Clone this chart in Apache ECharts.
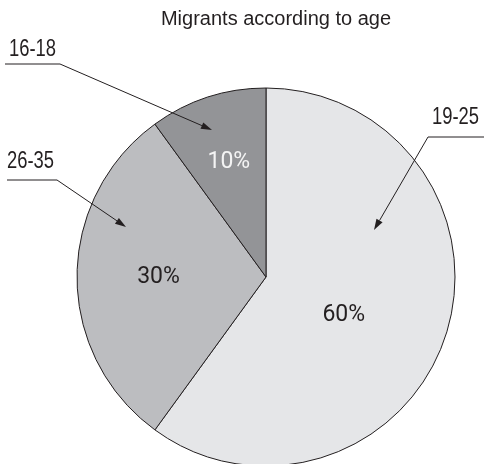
<!DOCTYPE html>
<html lang="en">
<head>
    <meta charset="utf-8">
    <title>Migrants according to age</title>
    <style>
        body {
            margin: 0;
            background: #fff;
        }

        #ec {
            width: 484px;
            height: 464px;
        }
    </style>
</head>
<body>
    <div id="ec"></div>
    <script src="https://cdn.jsdelivr.net/npm/echarts@6/dist/echarts.min.js"></script>
    <script>
        // data
        var ageGroups = ['19-25', '26-35', '16-18'];
        var shares = [60, 30, 10];
        var sliceColors = ['#e5e6e8', '#bcbdc0', '#939497'];
        var pctColors = ['#231f20', '#231f20', '#f4f4f4'];

        // nudges for the percentage labels (dx, dy)
        var pctNudge = [[-15, 8], [-10, 0], [-7, -22]];

        // callouts: text anchor, underline end, arrow tip
        var callouts = [
            { text: ageGroups[0], tx: 432, ty: 129, ux0: 484, ux1: 428, uy: 137, tipX: 374, tipY: 230 },
            { text: ageGroups[1], tx: 7, ty: 173, ux0: 7, ux1: 57, uy: 180, tipX: 126, tipY: 227 },
            { text: ageGroups[2], tx: 9, ty: 61, ux0: 5, ux1: 60, uy: 64, tipX: 212, tipY: 130 }
        ];

        var chart = echarts.init(document.getElementById('ec'));

        var graphics = [];
        callouts.forEach(function (c) {
            graphics.push({
                type: 'text',
                x: c.tx,
                y: c.ty,
                scaleX: 0.8,
                z: 100,
                style: {
                    text: c.text,
                    font: '23px "Liberation Sans", Arial, sans-serif',
                    fill: '#231f20',
                    textVerticalAlign: 'bottom'
                }
            });
            // arrow head
            var ang = Math.atan2(c.tipY - c.uy, c.tipX - c.ux1);
            var len = 11, half = 3.5;
            var bx = c.tipX - len * Math.cos(ang);
            var by = c.tipY - len * Math.sin(ang);
            graphics.push({
                type: 'polyline',
                z: 100,
                shape: { points: [[c.ux0, c.uy], [c.ux1, c.uy], [bx, by]] },
                style: { stroke: '#231f20', lineWidth: 1, fill: null }
            });
            graphics.push({
                type: 'polygon',
                z: 101,
                shape: {
                    points: [
                        [c.tipX, c.tipY],
                        [bx - half * Math.sin(ang), by + half * Math.cos(ang)],
                        [bx + half * Math.sin(ang), by - half * Math.cos(ang)]
                    ]
                },
                style: { fill: '#231f20' }
            });
        });

        chart.setOption({
            animation: false,
            title: {
                text: 'Migrants according to age',
                left: 271,
                top: 4,
                textAlign: 'center',
                textStyle: {
                    fontFamily: '"Liberation Sans", Arial, sans-serif',
                    fontSize: 20,
                    fontWeight: 'normal',
                    color: '#231f20'
                }
            },
            graphic: graphics,
            series: [{
                type: 'pie',
                center: [266, 277],
                radius: [0, 189],
                startAngle: 90,
                clockwise: true,
                silent: true,
                itemStyle: {
                    borderColor: '#231f20',
                    borderWidth: 1
                },
                label: {
                    position: 'inside',
                    formatter: '{d}%',
                    fontFamily: 'Roboto, sans-serif',
                    fontSize: 23
                },
                labelLayout: function (p) {
                    return { dx: pctNudge[p.dataIndex][0], dy: pctNudge[p.dataIndex][1] };
                },
                data: ageGroups.map(function (g, i) {
                    return {
                        name: g,
                        value: shares[i],
                        itemStyle: { color: sliceColors[i] },
                        label: { color: pctColors[i] }
                    };
                })
            }]
        });
    </script>
</body>
</html>
